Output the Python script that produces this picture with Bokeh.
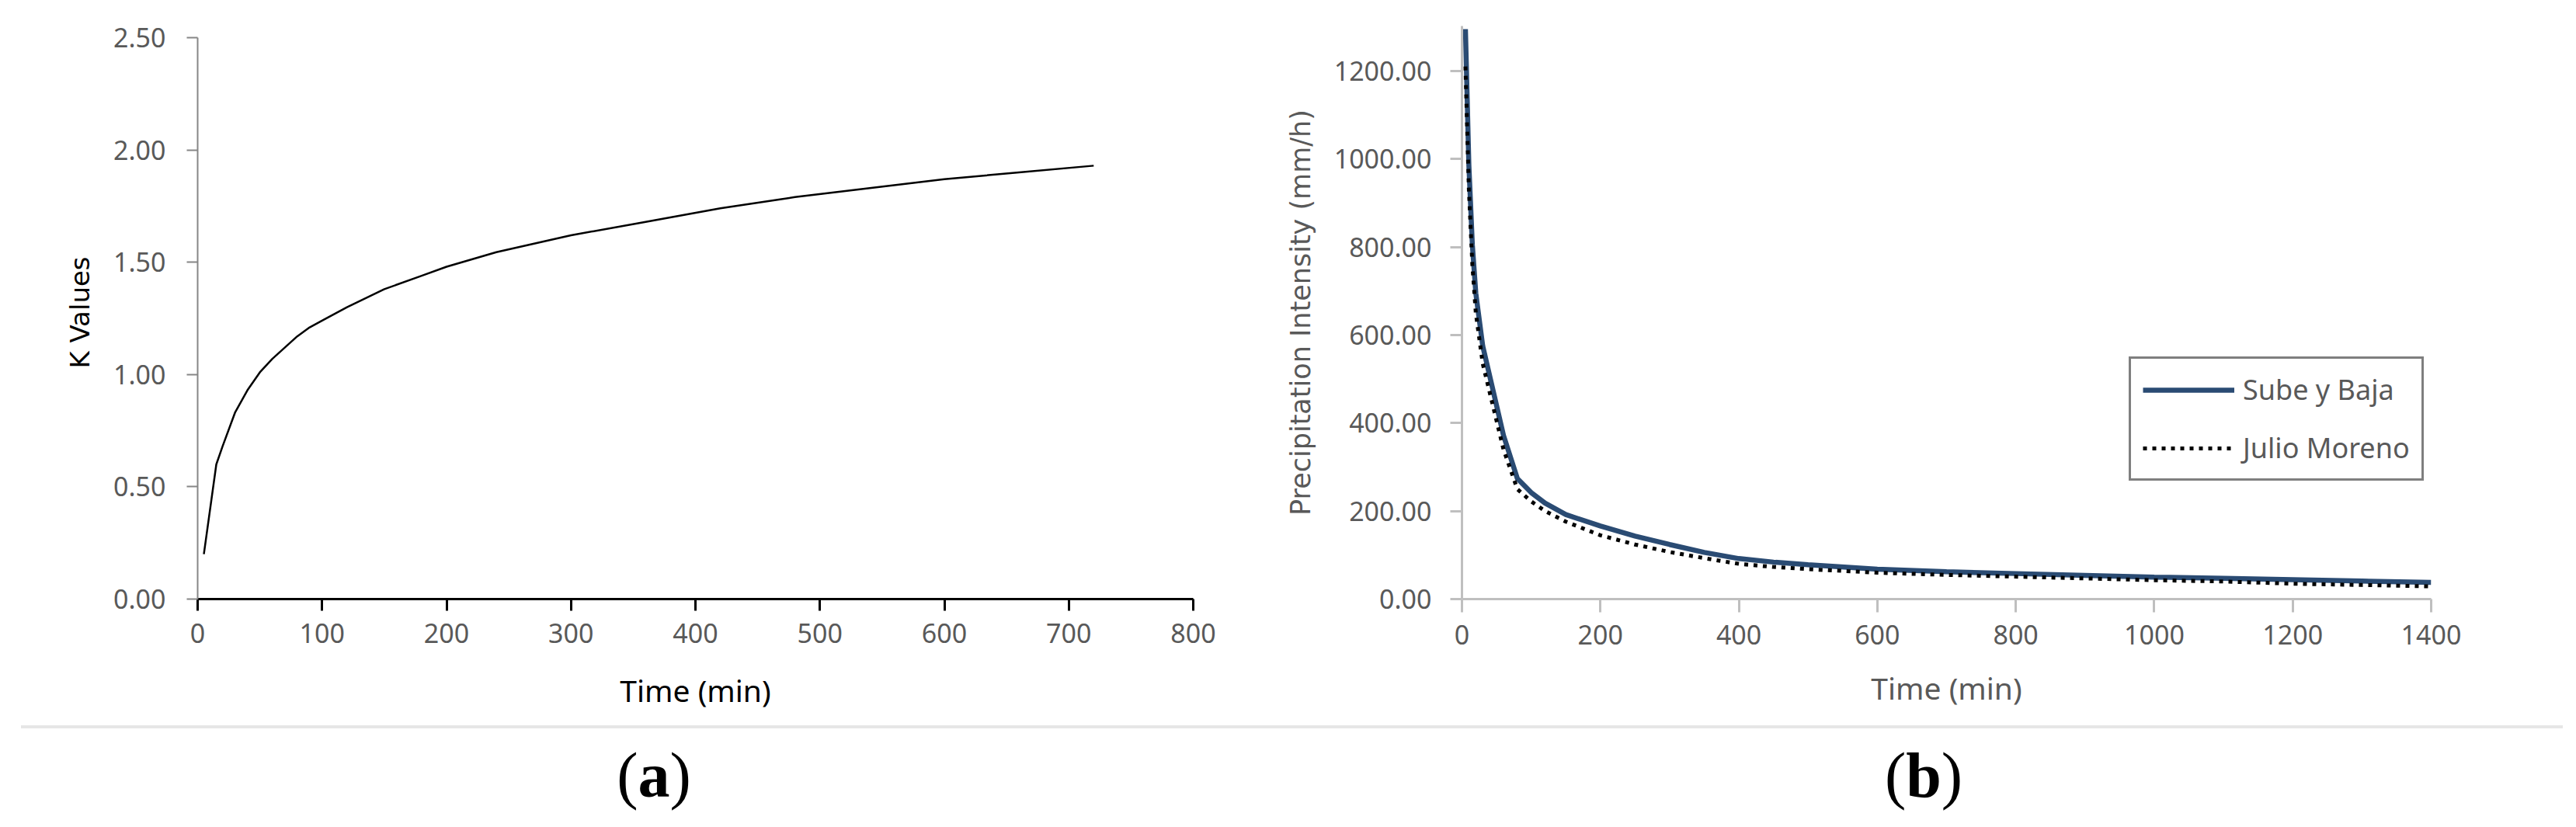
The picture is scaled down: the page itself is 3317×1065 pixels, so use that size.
from bokeh.plotting import figure
from bokeh.models import Range1d, NumeralTickFormatter, FixedTicker, Legend, LegendItem, Div
from bokeh.layouts import column, row
from bokeh.embed import file_html
from bokeh.resources import INLINE

# ---------------- data: panel (a) ----------------
k_time = [5, 15, 20, 30, 40, 50, 60, 70, 80, 90, 100, 120, 150, 180, 200, 240,
          300, 360, 420, 480, 540, 600, 660, 720]
k_values = [0.20, 0.60, 0.68, 0.83, 0.93, 1.01, 1.07, 1.12, 1.17, 1.21, 1.24,
            1.30, 1.38, 1.44, 1.48, 1.545, 1.62, 1.68, 1.74, 1.79, 1.83, 1.87,
            1.90, 1.93]
a_xticks = [0, 100, 200, 300, 400, 500, 600, 700, 800]
a_yticks = [0.0, 0.5, 1.0, 1.5, 2.0, 2.5]

# ---------------- data: panel (b) ----------------
b_time = [5, 10, 15, 20, 30, 60, 80, 100, 120, 150, 200, 250, 300, 350,
          400, 450, 500, 600, 700, 800, 900, 1000, 1100, 1200, 1300, 1400]
sube_y_baja = [1295, 985, 805, 695, 575, 372, 274, 242, 218, 192, 166, 143,
               124, 106, 92, 84, 78, 68, 62, 58, 54, 50, 47, 44, 41, 38]
julio_moreno = [1210, 930, 760, 650, 535, 340, 250, 222, 200, 176, 145, 124,
                107, 93, 80, 73, 68, 60, 55, 51, 47, 43, 40, 35, 32, 29]
b_xticks = [0, 200, 400, 600, 800, 1000, 1200, 1400]
b_yticks = [0, 200, 400, 600, 800, 1000, 1200]
series_names = ["Sube y Baja", "Julio Moreno"]

TICK_FONT = "Noto Sans"
GRAY = "#595959"

# both figures share the same frame top/bottom so that row alignment changes nothing
TOP, BOTTOM, HEIGHT = 33, 154, 925

# ---------------- panel (a) ----------------
fa = figure(width=1640, height=HEIGHT, x_range=Range1d(0, 800), y_range=Range1d(0, 2.552),
            title=None, output_backend="svg", toolbar_location=None,
            min_border_left=254, min_border_right=104, min_border_top=TOP, min_border_bottom=BOTTOM)
fa.outline_line_color = None
fa.grid.visible = False
fa.background_fill_color = "white"
fa.border_fill_color = "white"
fa.line(k_time, k_values, line_color="black", line_width=2.5)

fa.xaxis.ticker = FixedTicker(ticks=a_xticks)
fa.yaxis.ticker = FixedTicker(ticks=a_yticks)
fa.yaxis.bounds = (0, 2.5)
fa.yaxis.formatter = NumeralTickFormatter(format="0.00")
for ax in (fa.xaxis, fa.yaxis):
    ax.minor_tick_line_color = None
    ax.major_tick_in = 0
    ax.major_label_text_font = TICK_FONT
    ax.major_label_text_font_size = "34px"
    ax.major_label_text_color = GRAY
    ax.axis_label_text_font_style = "normal"
fa.xaxis.axis_line_color = "black"
fa.xaxis.axis_line_width = 3
fa.xaxis.major_tick_line_color = "black"
fa.xaxis.major_tick_line_width = 3
fa.xaxis.major_tick_out = 15
fa.xaxis.major_label_standoff = 16
fa.xaxis.axis_label = "Time (min)"
fa.xaxis.axis_label_text_font = TICK_FONT
fa.xaxis.axis_label_text_font_size = "39px"
fa.xaxis.axis_label_text_color = "black"
fa.xaxis.axis_label_standoff = 31

fa.yaxis.axis_line_color = "#868686"
fa.yaxis.axis_line_width = 2
fa.yaxis.major_tick_line_color = "#868686"
fa.yaxis.major_tick_line_width = 2
fa.yaxis.major_tick_out = 14
fa.yaxis.major_label_standoff = 27
fa.yaxis.axis_label = "K Values"
fa.yaxis.axis_label_text_font = "DejaVu Sans"
fa.yaxis.axis_label_text_font_size = "34px"
fa.yaxis.axis_label_text_color = "black"
fa.yaxis.axis_label_standoff = 20

# ---------------- panel (b) ----------------
fb = figure(width=1661, height=HEIGHT, x_range=Range1d(0, 1400), y_range=Range1d(0, 1302),
            title=None, output_backend="svg", toolbar_location=None,
            min_border_left=242, min_border_right=171, min_border_top=TOP, min_border_bottom=BOTTOM)
fb.outline_line_color = None
fb.grid.visible = False
fb.background_fill_color = "white"
fb.border_fill_color = "white"
r1 = fb.line(b_time, sube_y_baja, line_color="#2a4b73", line_width=6.5)
r2 = fb.line(b_time, julio_moreno, line_color="black", line_width=5, line_dash="5 7")

fb.xaxis.ticker = FixedTicker(ticks=b_xticks)
fb.yaxis.ticker = FixedTicker(ticks=b_yticks)
fb.yaxis.formatter = NumeralTickFormatter(format="0.00")
for ax in (fb.xaxis, fb.yaxis):
    ax.minor_tick_line_color = None
    ax.major_tick_in = 0
    ax.axis_line_color = "#bfbfbf"
    ax.axis_line_width = 3
    ax.major_tick_line_color = "#bfbfbf"
    ax.major_tick_line_width = 3
    ax.major_label_text_font = TICK_FONT
    ax.major_label_text_font_size = "34px"
    ax.major_label_text_color = GRAY
    ax.axis_label_text_font_style = "normal"
    ax.axis_label_text_color = GRAY
fb.xaxis.major_tick_out = 17
fb.xaxis.major_label_standoff = 16
fb.xaxis.axis_label = "Time (min)"
fb.xaxis.axis_label_text_font = TICK_FONT
fb.xaxis.axis_label_text_font_size = "39px"
fb.xaxis.axis_label_standoff = 26
fb.yaxis.major_tick_out = 15
fb.yaxis.major_label_standoff = 24
fb.yaxis.axis_label = "Precipitation Intensity (mm/h)"
fb.yaxis.axis_label_text_font = "DejaVu Sans"
fb.yaxis.axis_label_text_font_size = "35px"
fb.yaxis.axis_label_standoff = 20

legend = Legend(items=[LegendItem(label=series_names[0], renderers=[r1]),
                       LegendItem(label=series_names[1], renderers=[r2])],
                location=(859, 152))
legend.border_line_color = "black"
legend.border_line_width = 3
legend.padding = 15
legend.spacing = 26
legend.margin = 0
legend.glyph_width = 118
legend.glyph_height = 36
legend.label_standoff = 11
legend.label_text_font = TICK_FONT
legend.label_text_font_size = "36px"
legend.label_text_color = GRAY
legend.background_fill_color = "white"
legend.background_fill_alpha = 1
fb.add_layout(legend)

# ---------------- bottom strip: separator and panel letters ----------------
bottom_html = """
<div style="position:relative;width:3301px;height:116px;">
  <div style="position:absolute;left:22px;top:4px;width:3273px;height:4px;background:#e6e6e6;"></div>
  <div style="position:absolute;left:637px;top:28px;width:400px;text-align:center;
              font-family:'Liberation Serif';font-size:82px;line-height:82px;color:black;">(<b>a</b>)</div>
  <div style="position:absolute;left:2272px;top:28px;width:400px;text-align:center;
              font-family:'Liberation Serif';font-size:82px;line-height:82px;color:black;">(<b>b</b>)</div>
</div>
"""
bottom = Div(text=bottom_html, width=3301, height=116)

layout = column(row(fa, fb), bottom)
open("out.html", "w").write(file_html(layout, INLINE))
